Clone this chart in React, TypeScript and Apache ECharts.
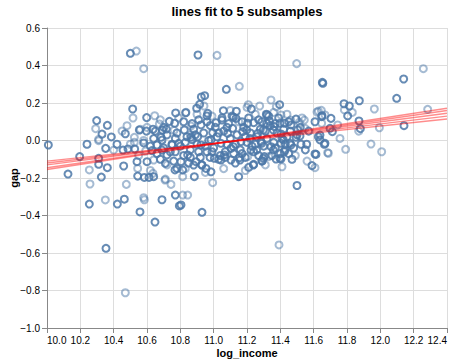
import React, { useEffect, useRef } from "react";
import * as echarts from "echarts";

const chartTitle = "lines fit to 5 subsamples";
const xTitle = "log_income";
const yTitle = "gap";

// points drawn by several subsamples (darker)
const darkPoints: [number, number][] = [
  [10.5, 0.465], [10.906, 0.456], [11.652, 0.31], [11.655, 0.305], [12.14, 0.328], [11.076, 0.273],
  [12.098, 0.225], [11.874, 0.212], [11.782, 0.196], [11.814, 0.184], [10.514, 0.168], [10.926, 0.232],
  [10.946, 0.239], [10.916, 0.193], [10.898, 0.172], [11.396, 0.191], [11.226, 0.168], [11.058, 0.159],
  [11.136, 0.156], [11.65, 0.132], [10.772, 0.147], [10.832, 0.148], [10.298, 0.106], [10.598, 0.122],
  [11.316, 0.14], [10.96, 0.131],
  [10.254, -0.339], [10.422, -0.339], [10.558, -0.381], [10.648, -0.435], [10.794, -0.349], [10.93, -0.383],
  [10.354, -0.575], [10.69, -0.316], [10.464, -0.313],
  [10.362, 0.081], [10.47, 0.036], [10.33, 0.034], [10.386, 0.019], [10.596, 0.05], [10.636, 0.06],
  [10.692, 0.056], [10.734, 0.102], [10.766, 0.092], [10.716, 0.061], [10.684, 0.017], [10.554, 0.056],
  [10.008, -0.024], [10.24, -0.02], [10.42, -0.02], [10.352, -0.042], [10.456, -0.051], [10.486, -0.045],
  [10.526, -0.045], [10.58, -0.013], [10.63, -0.054], [10.66, -0.024], [10.69, 0.002], [10.69, -0.051],
  [10.72, -0.077], [10.75, -0.024], [10.77, -0.06], [10.79, -0.015], [10.71, -0.122], [10.78, -0.149],
  [10.126, -0.179], [10.196, -0.086], [10.31, -0.095], [10.31, -0.127], [10.362, -0.145], [10.46, -0.136],
  [10.544, -0.19], [10.584, -0.197], [10.612, -0.197], [10.77, -0.291], [10.326, -0.195], [10.77, 0.011],
  [10.6, -0.113], [10.54, -0.113],
  [10.964, 0.145], [11.32, 0.136], [11.494, 0.114], [10.824, 0.056], [10.96, 0.1], [11.014, 0.095],
  [11.05, 0.109], [11.114, 0.065], [11.134, 0.118], [11.204, 0.092], [11.24, 0.095], [11.29, 0.1],
  [11.334, 0.104], [11.364, 0.074], [11.424, 0.092], [11.464, 0.083], [11.504, 0.056], [10.994, 0.042],
  [11.084, 0.038], [11.174, 0.047], [11.264, 0.038], [11.404, 0.035], [10.904, 0.02], [10.924, 0.083],
  [10.864, 0.017],
  [10.87, 0.005], [10.924, -0.024], [10.984, 0.003], [11.044, -0.015], [11.104, -0.042], [11.164, -0.006],
  [11.224, -0.051], [11.284, -0.006], [11.344, -0.033], [11.404, -0.015], [11.464, -0.024], [11.524, -0.02],
  [10.844, -0.077], [10.894, -0.113], [10.954, -0.149], [10.984, -0.167], [10.884, -0.193], [10.814, -0.157],
  [10.804, -0.344], [11.15, -0.193], [11.21, -0.143], [11.24, -0.127], [11.29, -0.108], [11.154, -0.092],
  [11.304, -0.086], [11.374, -0.099], [11.404, -0.099], [11.424, -0.06], [11.5, -0.24], [11.59, -0.134],
  [11.104, -0.104], [11.044, -0.104], [11.064, -0.077], [11.004, -0.095], [10.88, -0.131], [10.804, -0.113],
  [11.804, 0.131], [11.872, 0.104], [11.88, 0.063], [12.142, 0.079], [11.704, 0.118], [11.648, 0.127],
  [11.608, 0.1], [11.698, 0.065], [11.712, 0.047], [11.638, 0.029],
  [11.638, 0.003], [11.664, -0.02], [11.614, -0.074],
  [11.608, -0.072], [11.558, -0.02], [11.494, 0.017], [11.518, 0.024], [11.628, 0.02], [11.668, -0.015],
  [11.418, 0.003], [11.458, -0.015], [11.398, 0.092], [11.318, 0.092], [11.298, 0.056], [11.358, 0.056],
  [11.198, 0.056], [11.218, 0.011], [11.288, -0.015], [11.258, -0.051], [11.358, -0.051], [11.428, -0.051],
  [11.398, -0.095], [11.238, -0.131], [11.298, -0.095], [11.158, -0.104], [11.118, -0.033],
  [11.118, 0.124], [10.64, -0.193], [10.768, -0.157], [10.928, -0.131], [10.978, -0.09],
  [10.62, -0.03], [10.64, 0.01], [10.66, -0.07], [10.68, -0.1], [10.7, -0.04], [10.72, 0.03],
  [10.74, -0.06], [10.76, -0.11], [10.78, 0.04], [10.8, -0.03], [10.82, -0.08], [10.84, 0.02],
  [10.86, -0.05], [10.88, 0.06], [10.9, -0.02], [10.92, -0.09], [10.94, 0.04], [10.96, -0.06],
  [10.98, 0.08], [11.0, -0.04], [11.02, 0.02], [11.04, -0.08], [11.06, 0.05], [11.08, -0.02],
  [11.1, 0.01], [11.12, -0.07], [11.14, 0.03], [11.16, -0.05], [11.18, 0.07], [11.2, -0.01],
  [11.22, 0.04], [11.24, -0.06], [11.26, 0.02], [11.28, 0.06], [11.3, -0.03], [11.32, 0.01],
  [11.34, 0.08], [11.36, -0.01], [11.38, 0.04], [11.4, -0.07], [11.42, 0.06], [11.44, 0.02],
  [11.46, 0.05], [11.48, -0.04], [11.5, 0.03],
  [10.65, 0.05], [10.7, 0.07], [10.75, -0.02], [10.82, 0.1], [10.85, -0.12], [10.87, 0.09],
  [10.91, 0.11], [10.93, -0.13], [10.97, 0.0], [11.01, 0.07], [11.03, -0.1], [11.05, 0.12],
  [11.07, -0.06], [11.09, 0.09], [11.11, 0.13], [11.13, -0.12], [11.17, 0.1], [11.19, -0.09],
  [11.21, 0.12], [11.23, -0.03], [11.27, 0.11], [11.29, -0.11], [11.33, 0.13], [11.35, -0.08],
  [11.37, 0.09], [11.39, 0.12], [11.43, -0.02], [11.45, 0.1], [11.47, -0.1], [11.52, 0.07],
  [11.55, -0.05], [11.57, 0.05],
  [10.83, -0.01], [10.89, 0.03], [10.95, -0.03], [11.03, 0.04], [11.08, 0.07], [11.13, -0.02],
  [11.19, 0.02], [11.25, -0.02], [11.31, 0.05], [11.37, -0.04], [11.41, 0.01], [10.99, -0.06],
  [10.91, -0.06], [10.86, -0.09], [11.07, -0.09], [11.17, -0.07], [11.27, -0.08], [11.45, -0.07],
];

// points drawn by one subsample (lighter)
const lightPoints: [number, number][] = [
  [10.536, 0.477], [10.58, 0.383], [11.02, 0.454], [11.498, 0.41], [12.258, 0.383], [11.154, 0.289],
  [11.964, 0.168], [12.284, 0.166], [10.942, 0.184], [11.344, 0.216], [11.208, 0.191], [11.276, 0.184],
  [11.376, 0.18], [11.2, 0.177], [11.62, 0.152], [11.646, 0.161], [10.646, 0.132], [10.516, 0.12],
  [10.35, -0.317], [10.47, -0.812], [11.392, -0.557], [10.584, -0.316],
  [10.292, 0.063], [10.48, 0.079], [10.31, 0.006], [10.56, 0.06], [10.6, 0.07], [10.674, 0.088],
  [10.762, 0.054], [10.524, 0.017],
  [10.31, -0.001], [10.4, -0.051], [10.524, -0.01], [10.592, -0.056], [10.64, -0.104], [10.254, -0.157],
  [10.258, -0.232], [10.544, -0.149], [10.636, -0.175], [10.71, -0.206], [10.744, -0.234], [10.58, -0.305],
  [10.476, -0.234],
  [10.834, 0.15], [11.404, 0.136], [11.544, 0.109], [10.864, 0.077], [11.514, 0.097],
  [10.814, -0.193], [10.994, -0.225], [10.814, -0.291], [10.844, -0.291], [11.204, -0.086], [11.33, -0.086],
  [11.784, 0.163], [11.832, 0.15], [11.994, 0.068], [11.668, 0.136], [11.628, 0.157], [11.648, 0.092],
  [11.744, 0.083], [11.758, 0.011], [11.87, 0.05],
  [11.792, -0.047], [11.944, -0.019], [12.008, -0.06], [11.688, -0.068], [11.608, -0.145],
  [11.684, -0.065], [11.548, 0.065], [11.462, 0.109], [10.708, -0.211],
  [10.68, 0.11], [10.72, -0.13], [10.79, 0.12], [10.83, -0.15], [10.86, 0.03], [10.9, 0.14],
  [10.95, -0.17], [10.99, 0.13], [11.06, -0.15], [11.1, 0.16], [11.15, 0.1], [11.19, -0.16],
  [11.25, 0.14], [11.31, -0.13], [11.36, 0.15], [11.41, -0.14], [11.44, 0.14], [11.49, -0.08],
  [11.53, 0.12], [11.56, -0.11], [10.62, -0.16], [10.58, 0.0], [10.55, -0.08], [10.5, -0.02],
  [10.45, 0.05],
];

// five fitted lines, evaluated at the ends of the x domain
const fitX: [number, number] = [10.0, 12.4];
const fitStartY = [-0.155, -0.145, -0.13, -0.12, -0.11];
const fitEndY = [0.172, 0.16, 0.145, 0.13, 0.115];

const xTicks = { min: 10.0, max: 12.4, interval: 0.2 };
const yTicks = { min: -1.0, max: 0.6, interval: 0.2 };

const FONT = "'Liberation Sans', Arial, sans-serif";
const POINT = "#4c78a8";
const fmt = (v: number) => v.toFixed(1).replace("-", "\u2212");

export default function App() {
  const ref = useRef<HTMLDivElement>(null);
  useEffect(() => {
    if (!ref.current) return;
    const chart = echarts.init(ref.current, undefined, { renderer: "svg" });
    const axisCommon = {
      axisLine: { show: true, onZero: false, lineStyle: { color: "#888", width: 1 } },
      axisTick: { show: true, length: 5, lineStyle: { color: "#888", width: 1 } },
      splitLine: { show: true, lineStyle: { color: "#ddd", width: 1 } },
      nameTextStyle: { fontFamily: FONT, fontSize: 11, fontWeight: "bold", color: "#000" },
      nameMoveOverlap: false,
    };
    const lineSeries = fitStartY.map((s, i) => ({
      type: "line",
      data: [
        [fitX[0], s],
        [fitX[1], fitEndY[i]],
      ],
      symbol: "none",
      lineStyle: { color: "#ff0000", opacity: 0.45, width: 1.5 },
      silent: true,
      z: 5,
    }));
    chart.setOption({
      animation: false,
      graphic: [
        {
          type: "text",
          x: 247,
          y: 11,
          style: {
            text: chartTitle,
            fontFamily: FONT,
            fontSize: 13,
            fontWeight: "bold",
            fill: "#000",
            textAlign: "center",
            textVerticalAlign: "middle",
          },
        },
      ],
      grid: {
        left: 47,
        top: 28,
        width: 400,
        height: 300,
        containLabel: false,
        outerBoundsMode: "none",
      },
      xAxis: {
        type: "value",
        ...xTicks,
        ...axisCommon,
        name: xTitle,
        nameLocation: "middle",
        nameGap: 19,
        axisLabel: {
          formatter: fmt,
          fontFamily: FONT,
          fontSize: 10,
          color: "#000",
          margin: 7,
          alignMinLabel: "left",
          alignMaxLabel: "right",
          showMinLabel: true,
          showMaxLabel: true,
        },
      },
      yAxis: {
        type: "value",
        ...yTicks,
        ...axisCommon,
        name: yTitle,
        nameLocation: "middle",
        nameGap: 28,
        axisLabel: {
          formatter: fmt,
          fontFamily: FONT,
          fontSize: 10,
          color: "#000",
          margin: 7,
          showMinLabel: true,
          showMaxLabel: true,
        },
      },
      series: [
        {
          type: "scatter",
          data: lightPoints,
          symbol: "circle",
          symbolSize: 7,
          itemStyle: { color: "none", borderColor: POINT, borderWidth: 2, opacity: 0.5 },
          z: 2,
        },
        {
          type: "scatter",
          data: darkPoints,
          symbol: "circle",
          symbolSize: 7,
          itemStyle: { color: "none", borderColor: POINT, borderWidth: 2, opacity: 0.85 },
          z: 3,
        },
        ...lineSeries,
      ],
    });
    return () => chart.dispose();
  }, []);
  return (
    <div
      ref={ref}
      style={{ position: "fixed", left: 0, top: 0, width: 454, height: 364, background: "#fff" }}
    />
  );
}
